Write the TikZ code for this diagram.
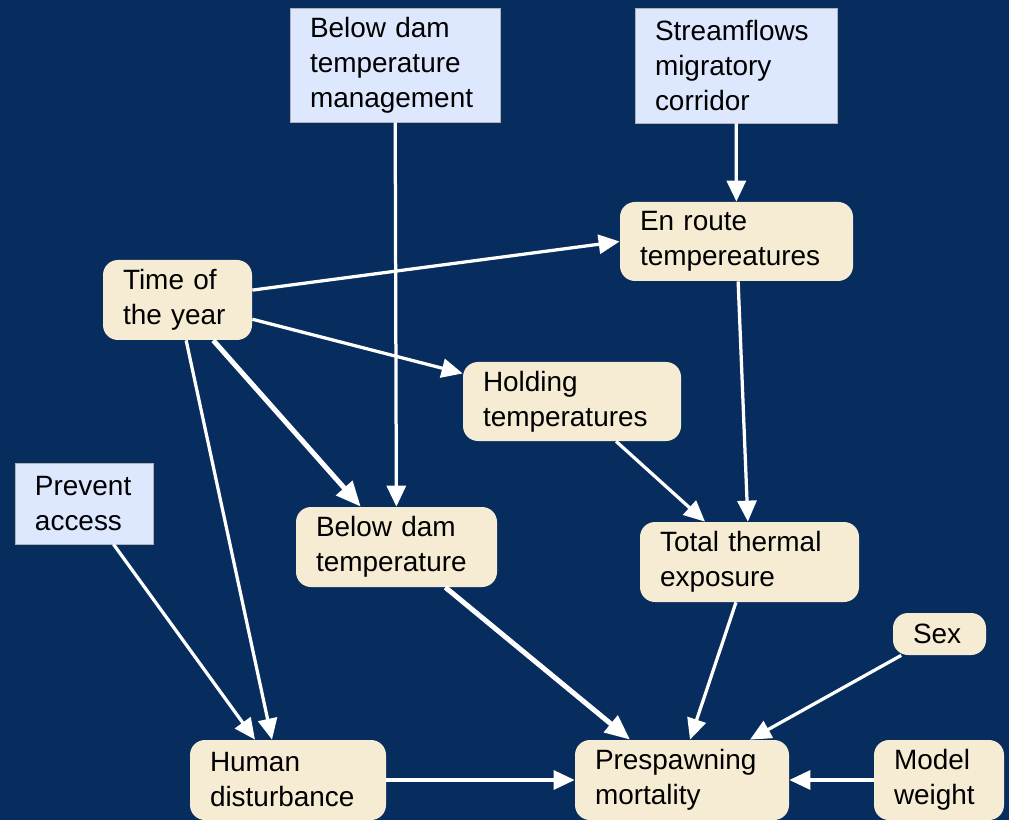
\documentclass[tikz,border=0pt]{standalone}
\usepackage{fontspec}
\setmainfont{Liberation Sans}
\usetikzlibrary{arrows.meta}
\definecolor{navy}{HTML}{072D5F}
\definecolor{cream}{HTML}{F6ECD3}
\definecolor{paleblue}{HTML}{DDE7FD}
\begin{document}
\begin{tikzpicture}[x=0.2mm,y=-0.2mm]
    \tikzset{factor/.style={rectangle,rounded corners=3mm,fill=cream,inner xsep=4mm,inner ysep=0pt,align=left,font=\fontsize{15.9}{19.9}\selectfont},
             action/.style={factor,rounded corners=0pt,fill=paleblue,draw=gray!60,line width=0.3pt},
             link/.style={draw=white,line width=0.65mm,-{Triangle[length=4.2mm,width=3.8mm]}},
             strong/.style={link,line width=1mm,-{Triangle[length=5mm,width=4.2mm]}}}
    \useasboundingbox[fill=navy] (0,0) rectangle (1009,820);
    \node[action,text width=34mm,minimum height=22.8mm] (mgmt) at (395,65) {Below dam\\temperature\\management};
    \node[action,text width=32.4mm,minimum height=23mm] (flow) at (736,65.5) {Streamflows\\migratory\\corridor};
    \node[factor,text width=38.6mm,minimum height=15.8mm] (enroute) at (736.5,241.5) {En route\\tempereatures};
    \node[factor,text width=21.8mm,minimum height=16mm] (time) at (177.5,300) {Time of\\the year};
    \node[factor,text width=35.6mm,minimum height=15.8mm] (holding) at (572,401.5) {Holding\\temperatures};
    \node[action,text width=19.6mm,minimum height=16.2mm] (access) at (84,503.5) {Prevent\\access};
    \node[factor,text width=32.2mm,minimum height=16mm] (damtemp) at (396.5,547) {Below dam\\temperature};
    \node[factor,text width=35.8mm,minimum height=16mm] (thermal) at (749.5,562) {Total thermal\\exposure};
    \node[factor,text width=10.6mm,minimum height=8.4mm] (sex) at (939.5,634) {Sex};
    \node[factor,text width=31.2mm,minimum height=16mm] (human) at (288,780) {Human\\disturbance};
    \node[factor,text width=34.8mm,minimum height=16mm] (mort) at (682,780) {Prespawning\\mortality};
    \node[factor,text width=18mm,minimum height=16mm] (weight) at (939,780) {Model\\weight};
    \draw[link] (mgmt) -- (damtemp);
    \draw[link] (flow) -- (enroute);
    \draw[link] (time) -- (enroute.west);
    \draw[link] (time) -- (holding);
    \draw[strong] (time) -- (damtemp);
    \draw[link] (time) -- ([xshift=-3.2mm]human.north);
    \draw[link] (access) -- ([xshift=-6.6mm]human.north);
    \draw[link] (enroute) -- (thermal);
    \draw[link] (holding) -- ([xshift=-8.9mm]thermal.north);
    \draw[strong] (damtemp) -- ([xshift=-10.4mm]mort.north);
    \draw[link] (thermal) -- ([xshift=1.6mm]mort.north);
    \draw[link] (sex) -- ([xshift=13.6mm]mort.north);
    \draw[link] (human) -- (mort);
    \draw[link] (weight) -- (mort);
\end{tikzpicture}
\end{document}
